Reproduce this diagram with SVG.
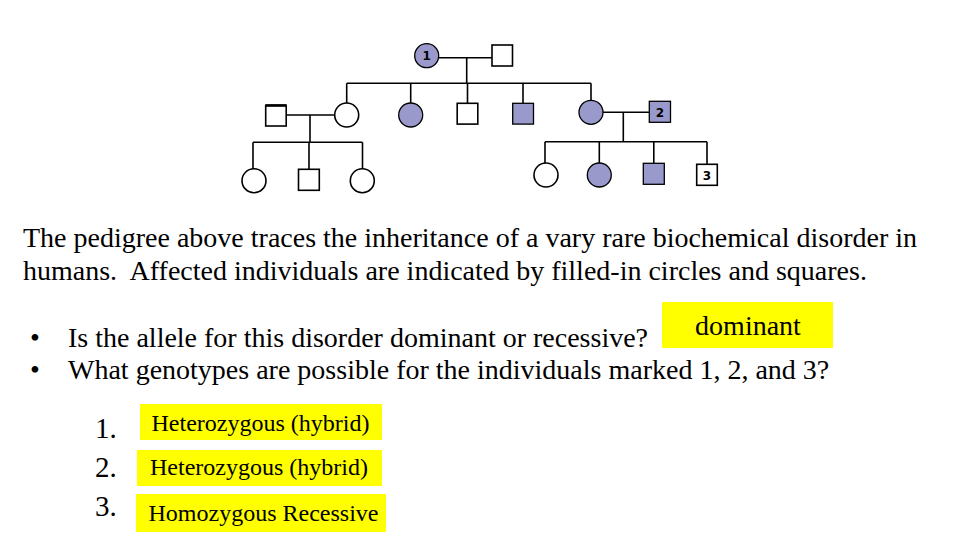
<svg xmlns="http://www.w3.org/2000/svg" width="960" height="540" viewBox="0 0 960 540">
<style>
.ln{stroke:#000;stroke-width:1.6;fill:none}
.open{fill:#fff;stroke:#000;stroke-width:1.6}
.aff{fill:#9999CC;stroke:#000;stroke-width:1.3}
.lab{font-family:"DejaVu Sans",sans-serif;font-size:12px;font-weight:bold;text-anchor:middle}
.t{font-family:"Liberation Serif",serif;font-size:28px;fill:#000}
.hl{fill:#FFFF00}
.a{font-family:"Liberation Serif",serif;font-size:24px;fill:#000}
.n{font-family:"Liberation Serif",serif;font-size:29px;fill:#000}
</style>
<rect width="960" height="540" fill="#fff"/>
<g id="connectors">
<path class="ln" d="M439,57.7H492 M466.7,57.7V83.3 M346.7,83.3H591 M346.7,83.3V103 M410.7,83.3V103 M467.5,83.3V103 M523,83.3V103 M591,83.3V100"/>
<path class="ln" d="M286.7,115H335 M310,115V142.3 M253,142.3H362.5 M253,142.3V169 M309,142.3V169.3 M362.5,142.3V169"/>
<path class="ln" d="M603,112.3H649.3 M623.3,112.3V141.7 M545,141.7H707 M545,141.7V163 M599.3,141.7V163 M653.8,141.7V163.3 M707,141.7V164.3"/>
</g>
<g id="n1"><circle class="aff" cx="426.7" cy="55.7" r="12"/><text class="lab" x="426.7" y="60">1</text></g>
<g id="n1spouse"><rect class="open" x="492" y="45" width="20.5" height="21"/></g>
<g id="c1"><circle class="open" cx="346.7" cy="115" r="12"/></g>
<g id="c2"><circle class="aff" cx="410.7" cy="115" r="12"/></g>
<g id="c3"><rect class="open" x="457.2" y="103.3" width="20.6" height="20.8"/></g>
<g id="c4"><rect class="aff" x="512.7" y="103.3" width="20.8" height="20.8"/></g>
<g id="c5"><circle class="aff" cx="591" cy="112.3" r="12"/></g>
<g id="n2"><rect class="aff" x="649.3" y="101.3" width="21.2" height="21"/><text class="lab" x="660" y="116.5">2</text></g>
<g id="c1spouse"><rect class="open" x="265.7" y="105.3" width="20.5" height="20.7"/><line x1="265.7" y1="105.5" x2="286.2" y2="105.5" stroke="#000" stroke-width="2.6"/></g>
<g id="g1"><circle class="open" cx="254" cy="180.7" r="12"/></g>
<g id="g2"><rect class="open" x="298.5" y="169.3" width="20.8" height="21"/></g>
<g id="g3"><circle class="open" cx="362.3" cy="180.7" r="12"/></g>
<g id="g4"><circle class="open" cx="546" cy="175" r="12"/></g>
<g id="g5"><circle class="aff" cx="599.3" cy="175" r="12"/></g>
<g id="g6"><rect class="aff" x="643.3" y="163.3" width="21" height="21"/></g>
<g id="n3"><rect class="open" x="696.7" y="164.3" width="20.6" height="21"/><text class="lab" x="707" y="179.5">3</text></g>
<text class="t" x="23" y="247">The pedigree above traces the inheritance of a vary rare biochemical disorder in</text>
<text class="t" x="23" y="280" xml:space="preserve">humans.  Affected individuals are indicated by filled-in circles and squares.</text>
<text class="t" x="30" y="347" font-size="22">•</text>
<text class="t" x="30" y="379" font-size="22">•</text>
<text class="t" x="68" y="347">Is the allele for this disorder dominant or recessive?</text>
<text class="t" x="68" y="379">What genotypes are possible for the individuals marked 1, 2, and 3?</text>
<g id="ans0"><rect class="hl" x="662" y="302" width="171" height="46"/><text class="t" x="748" y="335" font-size="37" text-anchor="middle">dominant</text></g>
<text class="n" x="95" y="438">1.</text>
<text class="n" x="95" y="477">2.</text>
<text class="n" x="95" y="516">3.</text>
<g id="ans1"><rect class="hl" x="140" y="404" width="242" height="36"/><text class="a" x="260.5" y="431" text-anchor="middle">Heterozygous (hybrid)</text></g>
<g id="ans2"><rect class="hl" x="137" y="450" width="245" height="36"/><text class="a" x="259" y="475" text-anchor="middle">Heterozygous (hybrid)</text></g>
<g id="ans3"><rect class="hl" x="136" y="494" width="250" height="38"/><text class="a" x="263.5" y="521" text-anchor="middle">Homozygous Recessive</text></g>
</svg>
